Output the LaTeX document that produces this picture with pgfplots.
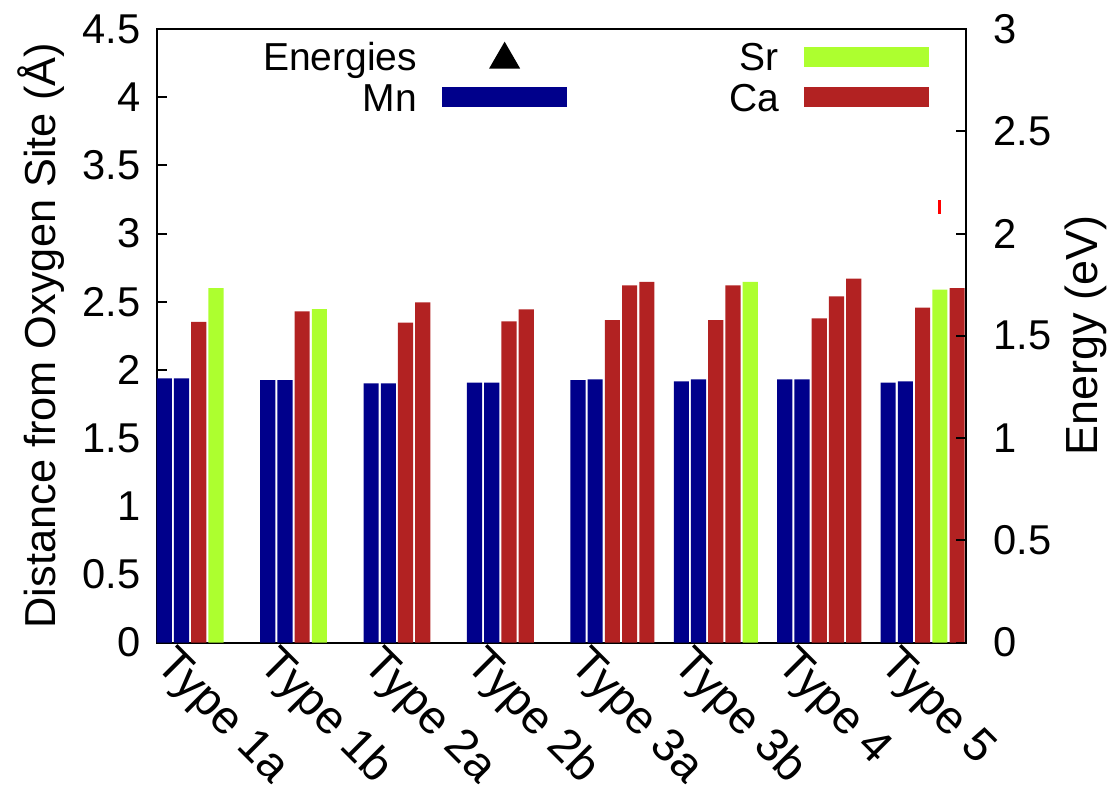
\documentclass[border=0pt]{standalone}
\usepackage{fontspec}
\setmainfont{Liberation Sans}
\usepackage{pgfplots}
\pgfplotsset{compat=1.18}

\definecolor{mnblue}{HTML}{00008B}
\definecolor{cared}{HTML}{B22222}
\definecolor{srgreen}{HTML}{ADFF2F}

\pgfplotsset{
  barleg/.style={legend image code/.code={\fill[##1, draw=none] (0pt,-3pt) rectangle (37.5pt,3pt);}},
  trileg/.style={legend image code/.code={%
      \path[draw=none, fill=none] (0pt,-3pt) rectangle (37.5pt,3pt);
      \draw[##1] plot coordinates {(18.75pt,-0.8pt)};}},
  barstyle/.style={forget plot, ybar, bar width=0.88, bar shift=0pt, draw=none, fill=#1},
  common/.style={
    scale only axis, width=242.7pt, height=184.05pt,
    xmin=-0.44, xmax=46.5,
    /pgf/number format/assume math mode=true,
    tick align=inside, major tick length=3pt,
    tick style={black, line width=0.6pt},
  },
}

\begin{document}
\begin{tikzpicture}
\begin{axis}[
  common,
  name=main,
  ymin=0, ymax=4.5,
  axis line style={line width=0.6pt},
  ytick={0,0.5,1,1.5,2,2.5,3,3.5,4,4.5},
  ytick pos=left,
  yticklabel style={font=\fontsize{12.5}{15}\selectfont, anchor=east, inner sep=0pt, xshift=-4.7pt},
  xtick={0,6,12,18,24,30,36,42},
  xticklabels={Type 1a,Type 1b,Type 2a,Type 2b,Type 3a,Type 3b,Type 4,Type 5},
  x tick style={draw=none},
  xticklabel style={font=\fontsize{14}{16}\selectfont, xshift=-3.06pt, yshift=-7.2pt, rotate=-45, anchor=base west, inner sep=0pt},
  ylabel={Distance from Oxygen Site (Å)},
  every axis y label/.style={at={(axis description cs:-0.1257,0.5)}, anchor=base, rotate=90, font=\fontsize{13}{15}\selectfont},
  legend columns=2,
  legend plot pos=right,
  legend cell align=right,
  legend style={
    at={(rel axis cs:0.9546,0.9772)}, anchor=north east,
    draw=none, fill=none, inner sep=0pt, outer sep=0pt,
    font=\fontsize{11.7}{14}\selectfont,
    nodes={inner sep=0pt, text height=8.4pt, text depth=0pt},
    row sep=3.75pt,
    /tikz/column 1/.style={column sep=7.5pt},
    /tikz/column 2/.style={column sep=48.6pt},
    /tikz/column 3/.style={column sep=7.5pt},
  },
]
\addlegendimage{trileg, black, only marks, mark=triangle*, mark size=5pt}
\addlegendentry{Energies}
\addlegendimage{barleg, fill=srgreen}
\addlegendentry{Sr}
\addlegendimage{barleg, fill=mnblue}
\addlegendentry{Mn}
\addlegendimage{barleg, fill=cared}
\addlegendentry{Ca}

% Mn neighbours
\addplot[barstyle=mnblue] coordinates {
  (0,1.938) (1,1.938)
  (6,1.925) (7,1.925)
  (12,1.900) (13,1.900)
  (18,1.906) (19,1.906)
  (24,1.925) (25,1.930)
  (30,1.915) (31,1.930)
  (36,1.930) (37,1.930)
  (42,1.906) (43,1.915)
};
% Ca neighbours
\addplot[barstyle=cared] coordinates {
  (2,2.352)
  (8,2.428)
  (14,2.346) (15,2.495)
  (20,2.355) (21,2.444)
  (26,2.365) (27,2.620) (28,2.645)
  (32,2.365) (33,2.620)
  (38,2.377) (39,2.538) (40,2.670)
  (44,2.457) (46,2.600)
};
% Sr neighbours
\addplot[barstyle=srgreen] coordinates {
  (3,2.600)
  (9,2.445)
  (34,2.645)
  (45,2.588)
};

\coordinate (bbSW) at (axis description cs:-0.1937,-0.2388);
\coordinate (bbNE) at (axis description cs:1.1833,1.0473);
\end{axis}

\begin{axis}[
  common,
  ymin=0, ymax=3,
  axis line style={draw=none},
  xtick=\empty,
  ytick={0,0.5,1,1.5,2,2.5,3},
  ytick pos=right,
  yticklabel pos=right,
  yticklabel style={font=\fontsize{12.5}{15}\selectfont, anchor=west, inner sep=0pt, xshift=8.1pt},
  ylabel={Energy (eV)},
  every axis y label/.style={at={(axis description cs:1.1623,0.5)}, anchor=base, rotate=90, font=\fontsize{13.5}{16}\selectfont},
]
% formation energy
\addplot[only marks, mark=|, mark size=2pt, red, line width=0.9pt] coordinates {(45,2.13)};
\end{axis}

\pgfresetboundingbox
\path (bbSW) rectangle (bbNE);
\end{tikzpicture}
\end{document}
